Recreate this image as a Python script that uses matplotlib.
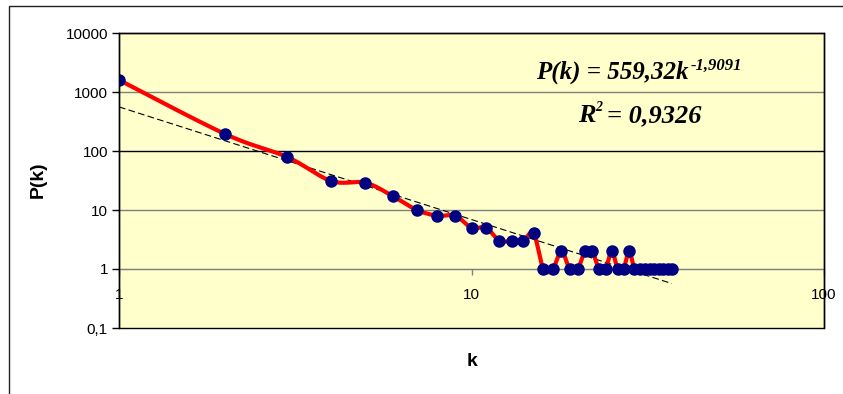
import numpy as np
import matplotlib.pyplot as plt
from matplotlib.patches import Rectangle
from matplotlib.ticker import FixedLocator, FuncFormatter, NullLocator

# degree k and distribution P(k)
k = np.arange(1, 38)
pk = [1600, 194, 79, 31, 29, 17, 10, 8, 8, 5,
      5, 3, 3, 3, 4, 1, 1, 2, 1, 1,
      2, 2, 1, 1, 2, 1, 1, 2, 1, 1,
      1, 1, 1, 1, 1, 1, 1]

# power-law fit reported on the chart
fit_a = 559.32
fit_b = -1.9091
eq_text = 'P(k) = 559,32k'
eq_exp = '-1,9091'
r2_text = '= 0,9326'

y_ticks = [0.1, 1, 10, 100, 1000, 10000]
x_ticks = [1, 10, 100]


def smooth(x, y, n=20):
    # Excel style smoothed line: bezier segments with catmull-rom control points
    p = np.column_stack([x, y])
    out = []
    for i in range(len(p) - 1):
        p0 = p[i - 1] if i > 0 else p[i]
        p1 = p[i]
        p2 = p[i + 1]
        p3 = p[i + 2] if i + 2 < len(p) else p[i + 1]
        c1 = p1 + (p2 - p0) / 6
        c2 = p2 - (p3 - p1) / 6
        t = np.linspace(0, 1, n)[:, None]
        seg = ((1 - t) ** 3 * p1 + 3 * (1 - t) ** 2 * t * c1
               + 3 * (1 - t) * t ** 2 * c2 + t ** 3 * p2)
        out.append(seg if i == 0 else seg[1:])
    out = np.vstack(out)
    return out[:, 0], out[:, 1]


W, H = 843, 394
fig = plt.figure(figsize=(W / 100, H / 100), dpi=100)
fig.patch.set_facecolor('white')

# outer chart frame (cropped on right and bottom)
fig.add_artist(Rectangle((9 / W, -0.2), 2, 1 - 6 / H + 0.2, transform=fig.transFigure,
                         fill=False, ec='#202020', lw=1))

ax = fig.add_axes([119 / W, 1 - 328 / H, 705 / W, 295 / H])
ax.set_facecolor('#FFFFCC')
ax.set_xscale('log')
ax.set_yscale('log')
ax.set_xlim(1, 100)
ax.set_ylim(0.1, 10000)

# gridlines
for v in y_ticks[1:-1]:
    ax.axhline(v, color='black' if v == 100 else '#808080', lw=1, zorder=1)

# trend line
kk = np.linspace(1, k.max(), 200)
ax.plot(kk, fit_a * kk ** fit_b, color='black', lw=0.8, ls=(0, (6, 3)), zorder=3)

# smoothed data line + markers
sx, sy = smooth(np.log10(k), np.log10(pk))
ax.plot(10 ** sx, 10 ** sy, color='#FF0000', lw=3, solid_joinstyle='round', zorder=4)
ax.plot(k, pk, 'o', color='#000080', markersize=8, zorder=5)

# plot area border
for s in ['top', 'right', 'left']:
    ax.spines[s].set_color('black')
    ax.spines[s].set_linewidth(1)
ax.spines['bottom'].set_position(('data', 1))
ax.spines['bottom'].set_color('#808080')
ax.add_patch(Rectangle((0, 0), 1, 1, transform=ax.transAxes, fill=False,
                       ec='black', lw=1, zorder=6, clip_on=False))

ax.yaxis.set_major_locator(FixedLocator(y_ticks))
ax.yaxis.set_minor_locator(NullLocator())
ax.yaxis.set_major_formatter(FuncFormatter(lambda v, p: '0,1' if v < 1 else '%d' % v))
ax.xaxis.set_major_locator(FixedLocator(x_ticks))
ax.xaxis.set_minor_locator(NullLocator())
ax.xaxis.set_major_formatter(FuncFormatter(lambda v, p: '%d' % v))
ax.tick_params(axis='y', direction='out', length=5, width=1, color='black', pad=3,
               labelsize=11)
ax.tick_params(axis='x', direction='out', length=4, width=1, color='#808080', pad=10,
               labelsize=11)
for lab in ax.get_xticklabels() + ax.get_yticklabels():
    lab.set_family('Liberation Sans')

fig.text(38 / W, 1 - 180 / H, 'P(k)', fontsize=14, fontweight='bold', family='Liberation Sans',
         rotation=90, ha='center', va='center')
fig.text(472 / W, 1 - 362 / H, 'k', fontsize=14, fontweight='bold', family='Liberation Sans',
         ha='center', va='center')

# equation text
serif = dict(family='Liberation Serif', fontweight='bold', fontstyle='italic')
t1 = ax.text((536 - 119) / 705, (328 - 79) / 295, eq_text, transform=ax.transAxes,
             fontsize=18, va='baseline', ha='left', zorder=7, **serif)
ax.annotate(eq_exp, xy=(1, 1), xycoords=t1, xytext=(2, 3), textcoords='offset pixels',
            fontsize=12, va='top', ha='left', zorder=7, **serif)
t2 = ax.text((578 - 119) / 705, (328 - 122) / 295, 'R', transform=ax.transAxes,
             fontsize=19, va='baseline', ha='left', zorder=7, **serif)
ax.annotate('2', xy=(1, 1), xycoords=t2, xytext=(0, 3), textcoords='offset pixels',
            fontsize=10, va='top', ha='left', zorder=7, **serif)
ax.text((607 - 119) / 705, (328 - 122) / 295, r2_text, transform=ax.transAxes,
        fontsize=19, va='baseline', ha='left', zorder=7, **serif)

fig.savefig('out.png', dpi=100)
